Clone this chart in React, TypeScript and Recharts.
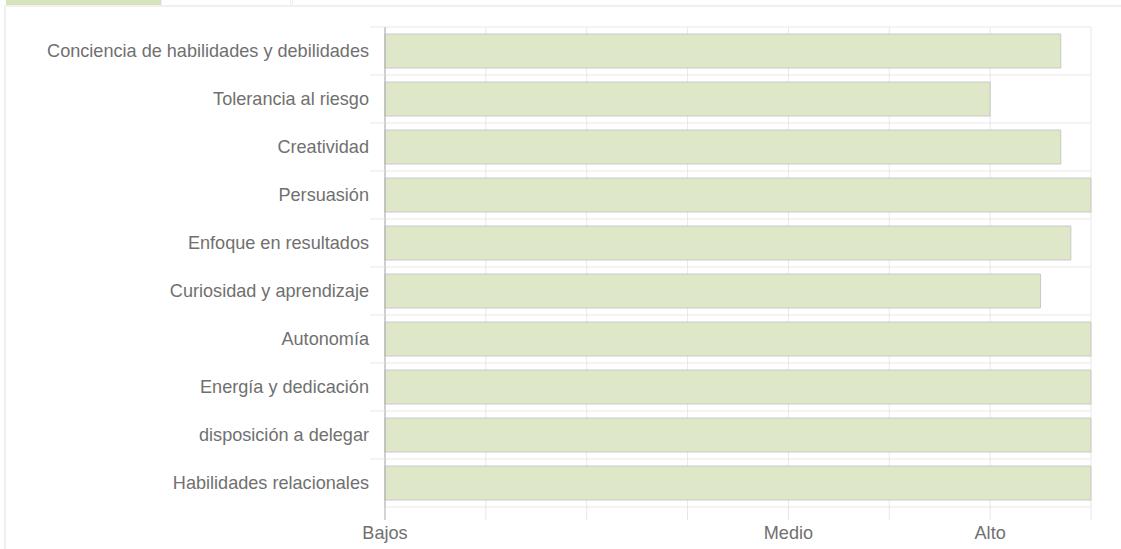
import React from 'react';
import { BarChart, Bar, XAxis, YAxis, CartesianGrid } from 'recharts';

const categories = [
  'Conciencia de habilidades y debilidades',
  'Tolerancia al riesgo',
  'Creatividad',
  'Persuasión',
  'Enfoque en resultados',
  'Curiosidad y aprendizaje',
  'Autonomía',
  'Energía y dedicación',
  'disposición a delegar',
  'Habilidades relacionales',
];
const scores = [6.7, 6.0, 6.7, 7, 6.8, 6.5, 7, 7, 7, 7];
const xTicks = [0, 1, 2, 3, 4, 5, 6, 7];
const xTickLabels = ['Bajos', '', '', '', 'Medio', '', 'Alto', ''];

const W = 1121;
const H = 549;
const TOP = 27;
const XAXIS_H = 42;
const BAND = (H - TOP - XAXIS_H) / categories.length;
const FONT = '"Liberation Sans", Arial, sans-serif';
const TEXT = '#707070';

const data = categories.map((name, i) => ({ name, value: scores[i] }));

function YTick(props: any) {
  const { x, y, payload } = props;
  const top = y - BAND / 2;
  return (
    <g>
      <line x1={x + 1} x2={x + 16} y1={top} y2={top} stroke="#e8e8e8" />
      <text x={x} y={y} dy={6} textAnchor="end" fill={TEXT} fontSize={18.1} fontFamily={FONT}>
        {payload.value}
      </text>
    </g>
  );
}

function XTick(props: any) {
  const { x, y, payload } = props;
  const label = xTickLabels[xTicks.indexOf(payload.value)] || '';
  return (
    <g>
      <line x1={x} x2={x} y1={y - 19} y2={y - 6} stroke={payload.value === 0 ? '#aaa' : '#e6e6e6'} />
      <text x={x} y={y} dy={13} textAnchor="middle" fill={TEXT} fontSize={18.1} fontFamily={FONT}>
        {label}
      </text>
    </g>
  );
}

export default function App() {
  return (
    <div style={{ position: 'absolute', left: 0, top: 0, width: W, height: H, background: '#fff', overflow: 'hidden' }}>
      {/* tab strip */}
      <div style={{ position: 'absolute', left: 6, top: 0, width: 155, height: 5, background: '#d6e4bc' }} />
      <div style={{ position: 'absolute', left: 161, top: 0, width: 1, height: 5, background: '#eee' }} />
      <div style={{ position: 'absolute', left: 290, top: 0, width: 1, height: 5, background: '#eee' }} />
      <div style={{ position: 'absolute', left: 292, top: 0, width: 1, height: 5, background: '#eee' }} />
      <div style={{ position: 'absolute', left: 4, top: 5, width: W - 4, height: 2, background: '#f0f0f0' }} />
      <div style={{ position: 'absolute', left: 4, top: 5, width: 2, height: H - 5, background: '#f0f0f0' }} />
      <div style={{ position: 'absolute', left: 0, top: 0 }}>
        <BarChart
          width={W}
          height={H}
          data={data}
          layout="vertical"
          margin={{ top: TOP, right: 30, bottom: 0, left: 0 }}
        >
          <CartesianGrid
            stroke="#e8e8e8"
            horizontalCoordinatesGenerator={(p: any) =>
              categories.map((_, i) => p.offset.top + i * BAND).concat([p.offset.top + p.offset.height])
            }
          />
          <XAxis
            type="number"
            domain={[0, 7]}
            ticks={xTicks}
            interval={0}
            height={XAXIS_H}
            axisLine={false}
            tickLine={false}
            tickSize={13}
            tickMargin={6}
            tick={<XTick />}
          />
          <YAxis
            type="category"
            dataKey="name"
            width={385}
            axisLine={{ stroke: '#aaa' }}
            tickLine={false}
            tickSize={15}
            tickMargin={1}
            interval={0}
            tick={<YTick />}
          />
          <Bar dataKey="value" barSize={34} fill="#dee8c8" stroke="#c8c8c8" strokeWidth={1} isAnimationActive={false} />
        </BarChart>
      </div>
    </div>
  );
}
